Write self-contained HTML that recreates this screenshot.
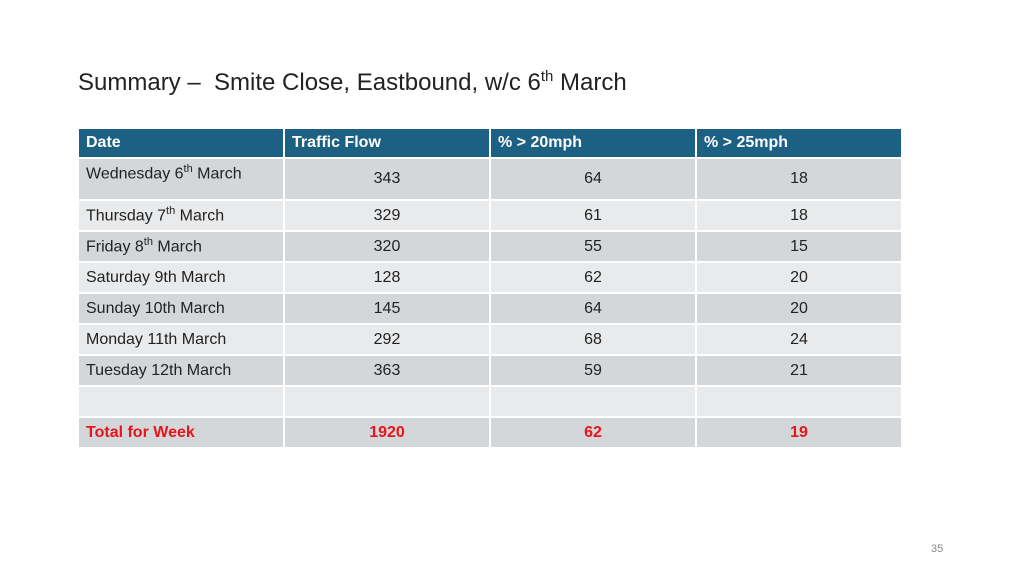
<!DOCTYPE html>
<html><head><meta charset="utf-8"><style>
body{margin:0;width:1024px;height:576px;background:#fff;position:relative;font-family:"Liberation Sans",sans-serif;overflow:hidden}
#title{position:absolute;left:78px;top:68px;font-size:24px;color:#222;white-space:nowrap}
#title sup{font-size:15px}
table{position:absolute;left:77px;top:127px;border-collapse:collapse;table-layout:fixed}
td,th{border:2px solid #fff;padding:0 7px;font-size:16px;color:#222;text-align:center;font-weight:normal}
th{background:#1c6083;color:#fff;font-weight:bold;text-align:left;height:28px}
td:first-child{text-align:left}
tr.d td{background:#d4d7da}
tr.l td{background:#e9eaeb}
tr.t td{color:#e8141c;font-weight:bold}
sup{font-size:11px}
#pg{position:absolute;left:931px;top:543px;font-size:11px;color:#888}
</style></head><body>
<div id="title">Summary – &nbsp;Smite Close, Eastbound, w/c 6<sup>th</sup> March</div>
<table>
<colgroup><col style="width:206px"><col style="width:206px"><col style="width:206px"><col style="width:206px"></colgroup>
<tr><th>Date</th><th>Traffic Flow</th><th>% &gt; 20mph</th><th>% &gt; 25mph</th></tr>
<tr class="d" style="height:42px"><td style="vertical-align:top;padding-top:4px">Wednesday 6<sup>th</sup> March</td><td>343</td><td>64</td><td>18</td></tr>
<tr class="l" style="height:31px"><td>Thursday 7<sup>th</sup> March</td><td>329</td><td>61</td><td>18</td></tr>
<tr class="d" style="height:31px"><td>Friday 8<sup>th</sup> March</td><td>320</td><td>55</td><td>15</td></tr>
<tr class="l" style="height:31px"><td>Saturday 9th March</td><td>128</td><td>62</td><td>20</td></tr>
<tr class="d" style="height:31px"><td>Sunday 10th March</td><td>145</td><td>64</td><td>20</td></tr>
<tr class="l" style="height:31px"><td>Monday 11th March</td><td>292</td><td>68</td><td>24</td></tr>
<tr class="d" style="height:31px"><td>Tuesday 12th March</td><td>363</td><td>59</td><td>21</td></tr>
<tr class="l" style="height:31px"><td></td><td></td><td></td><td></td></tr>
<tr class="d t" style="height:31px"><td>Total for Week</td><td>1920</td><td>62</td><td>19</td></tr>
</table>
<div id="pg">35</div>
</body></html>
